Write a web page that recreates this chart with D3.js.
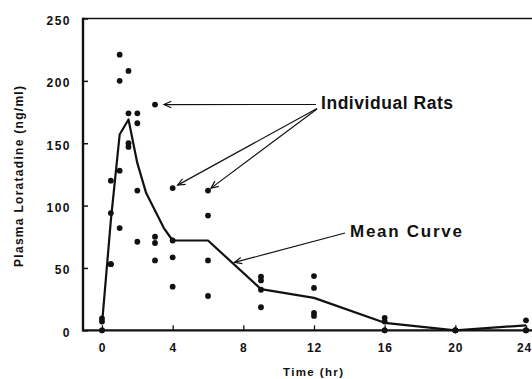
<!DOCTYPE html>
<html><head><meta charset="utf-8">
<script src="https://cdn.jsdelivr.net/npm/d3@7/dist/d3.min.js"></script>
<style>
html,body{margin:0;padding:0;background:#fff;}
svg{display:block;}
text{font-family:"Liberation Sans",Arial,Helvetica,sans-serif;font-weight:bold;fill:#111;}
</style></head><body>
<svg id="chart" width="532" height="379"></svg>
<script>
// ---- data ----
const xTicks = [0, 4, 8, 12, 16, 20, 24];
const yTicks = [0, 50, 100, 150, 200, 250];

const pointTimes = [
  0, 0, 0, 0,
  0.5, 0.5, 0.5, 0.5,
  1, 1, 1, 1,
  1.5, 1.5, 1.5, 1.5,
  2, 2, 2, 2,
  3, 3, 3, 3,
  4, 4, 4, 4,
  6, 6, 6, 6,
  9, 9, 9, 9,
  12, 12, 12, 12,
  16, 16, 16, 16,
  20, 20, 20, 20,
  24, 24, 24, 24
];
const pointValues = [
  9.5, 7, 0, 0,
  120, 94, 53, 53,
  221, 200, 128, 82,
  208, 174, 150, 147,
  174, 166, 112, 71,
  181, 75, 70, 56,
  114, 72, 58.5, 35,
  112, 92, 56, 27.5,
  43, 40, 32.5, 18.5,
  43.5, 34, 14, 11.5,
  10, 7, 0, 0,
  0, 0, 0, 0,
  8, 0, 0, 0
];

const meanTimes  = [0, 0.5, 1, 1.5, 2, 2.5, 3, 3.5, 4, 6, 9, 12, 16, 20, 24];
const meanValues = [5, 88, 157, 169, 134, 110, 96, 82, 72, 72, 33, 26, 6, 0, 4];

const xTitle = "Time (hr)";
const yTitle = "Plasma Loratadine (ng/ml)";
const noteRats = "Individual Rats";
const noteMean = "Mean Curve";
// arrow targets in data units [time, value]
const ratTargets = [[3, 181], [4, 114], [6, 112]];
const meanTarget = [7.5, 52];

// ---- layout ----
const svg = d3.select("#chart");
const mLeft = 83, mTop = 18.5, mBottom = 330.3, rightEdge = 532;
const x = d3.scaleLinear().domain([0, 24]).range([102, 526]);
const y = d3.scaleLinear().domain([0, 250]).range([mBottom, mTop]);

// frame
svg.append("line").attr("x1", mLeft).attr("x2", rightEdge).attr("y1", mTop).attr("y2", mTop)
  .attr("stroke", "#111").attr("stroke-width", 1.6);
svg.append("line").attr("x1", mLeft).attr("x2", mLeft).attr("y1", mTop - 0.8).attr("y2", mBottom + 1)
  .attr("stroke", "#111").attr("stroke-width", 2.4);
svg.append("line").attr("x1", mLeft - 1).attr("x2", rightEdge).attr("y1", mBottom).attr("y2", mBottom)
  .attr("stroke", "#111").attr("stroke-width", 2.2);

// axes
const gx = svg.append("g").attr("transform", `translate(0,${mBottom})`)
  .call(d3.axisBottom(x).tickValues(xTicks).tickFormat(d3.format("d")).tickSize(-5).tickPadding(13));
gx.select(".domain").remove();
gx.selectAll(".tick line").attr("stroke", "#111").attr("stroke-width", 1.3);
gx.selectAll(".tick text").attr("font-size", 12).attr("font-family", null)
  .style("letter-spacing", "0.8px").attr("fill", "#111");
// keep the last label inside the picture
gx.selectAll(".tick").filter(d => d === xTicks[xTicks.length - 1]).select("text")
  .attr("text-anchor", "end").attr("x", rightEdge - 0.5 - x(xTicks[xTicks.length - 1]));

const gy = svg.append("g").attr("transform", `translate(${mLeft},0)`)
  .call(d3.axisLeft(y).tickValues(yTicks).tickSize(-5).tickPadding(12));
gy.select(".domain").remove();
gy.selectAll(".tick line").attr("stroke", "#111").attr("stroke-width", 1.5);
gy.selectAll(".tick text").attr("font-size", 12).attr("font-family", null)
  .attr("dy", "0.5em").style("letter-spacing", "1.5px").attr("fill", "#111");

// axis titles
svg.append("text").attr("x", 313).attr("y", 376).attr("text-anchor", "middle")
  .attr("font-size", 11.5).attr("textLength", 60).attr("lengthAdjust", "spacing").text(xTitle);
svg.append("text").attr("transform", "translate(23,176.5) rotate(-90)").attr("text-anchor", "middle")
  .attr("font-size", 12).attr("textLength", 181).attr("lengthAdjust", "spacing").text(yTitle);

// mean curve
const meanData = meanTimes.map((t, i) => [t, meanValues[i]]);
svg.append("path").datum(meanData)
  .attr("fill", "none").attr("stroke", "#111").attr("stroke-width", 2.2).attr("stroke-linejoin", "round")
  .attr("d", d3.line().x(d => x(d[0])).y(d => y(d[1])));

// individual points
const pts = pointTimes.map((t, i) => [t, pointValues[i]]);
svg.append("g").selectAll("circle").data(pts).join("circle")
  .attr("cx", d => x(d[0])).attr("cy", d => y(d[1])).attr("r", 2.9).attr("fill", "#111");

// annotations
function arrow(x1, y1, x2, y2) {
  const g = svg.append("g").attr("stroke", "#111").attr("stroke-width", 1.2).attr("fill", "none");
  g.append("line").attr("x1", x1).attr("y1", y1).attr("x2", x2).attr("y2", y2);
  const a = Math.atan2(y1 - y2, x1 - x2), L = 8, s = 0.42;
  g.append("path").attr("d",
    `M${x2 + L * Math.cos(a + s)},${y2 + L * Math.sin(a + s)}L${x2},${y2}L${x2 + L * Math.cos(a - s)},${y2 + L * Math.sin(a - s)}`);
}
const tipOffsets = [[9, 0], [5, -3], [3, -2.5]];
const starts = [[316, 104.5], [317, 108.5], [317, 109]];
ratTargets.forEach((d, i) => {
  arrow(starts[i][0], starts[i][1], x(d[0]) + tipOffsets[i][0], y(d[1]) + tipOffsets[i][1]);
});
arrow(345, 233, x(meanTarget[0]), y(meanTarget[1]) - 3);

svg.append("text").attr("x", 321).attr("y", 109).attr("font-size", 17.5)
  .attr("textLength", 132).attr("lengthAdjust", "spacing").text(noteRats);
svg.append("text").attr("x", 350).attr("y", 236.5).attr("font-size", 17)
  .attr("textLength", 112).attr("lengthAdjust", "spacing").text(noteMean);
</script>
</body></html>
